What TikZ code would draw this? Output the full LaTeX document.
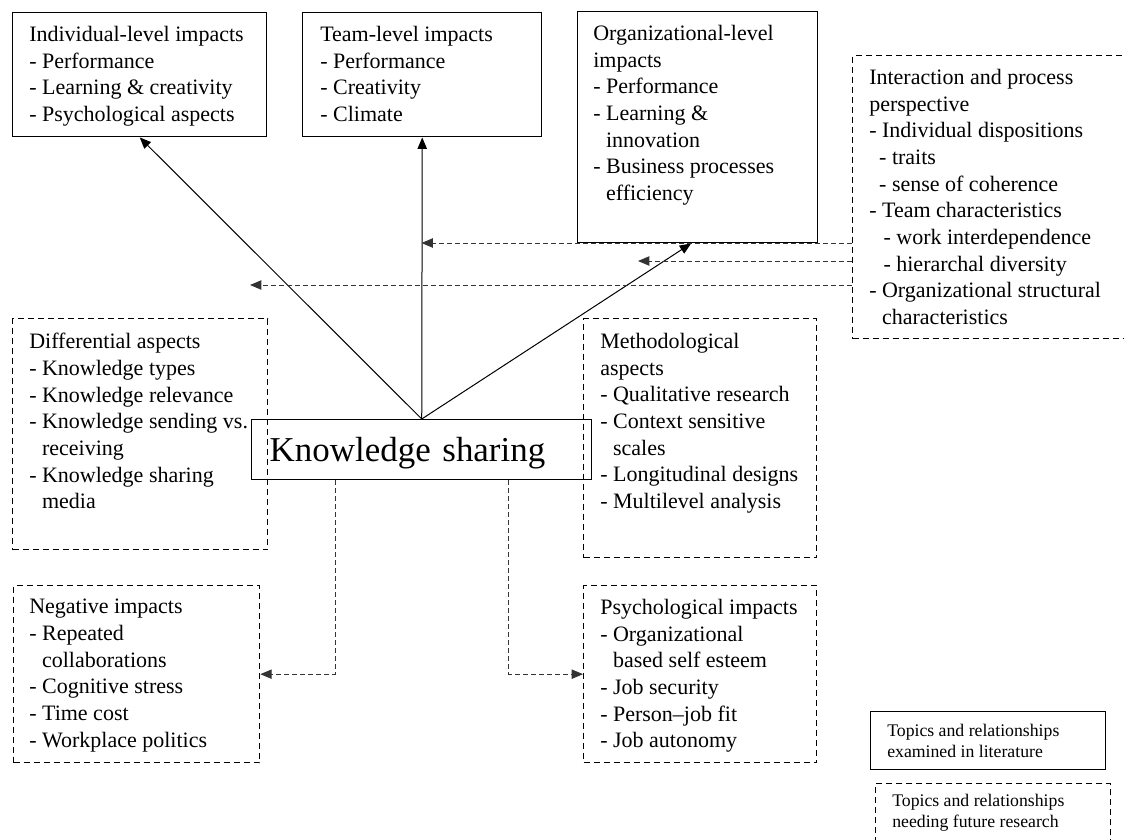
\documentclass[tikz,border=0pt]{standalone}
\usepackage{fontspec}
\setmainfont{Liberation Serif}
\usetikzlibrary{arrows.meta,
                positioning}
\tikzset{topic/.style =
   {rectangle,
    draw,
    line width=1.1pt,
    anchor=north west,
    inner sep=0pt}}
\tikzset{future/.style =
   {topic,
    line width=1pt,
    dash pattern=on 4.5pt off 3pt}}
\tikzset{topictext/.style =
   {anchor=north west,
    align=left,
    inner sep=0pt,
    font=\fontsize{16.5}{20}\selectfont}}
\tikzset{legendtext/.style =
   {topictext,
    font=\fontsize{13.3}{15.5}\selectfont}}
\tikzset{arrow/.style = {draw, line width=0.75pt, -{Triangle[length=8.5pt,width=7pt]}}}
\tikzset{futurearrow/.style = {arrow, black!80, dash pattern=on 3.75pt off 2.25pt}}
\newcommand{\wrapind}{\hspace*{0.583em}}

\begin{document}
\begin{tikzpicture}[x=0.75pt, y=-0.75pt]

    \useasboundingbox (0,0) rectangle (1124,839);

    \node [topic,
           minimum width=190.5pt,
           minimum height=93pt] (indiv) at (12,12) {};

    \node [topic,
           minimum width=179.25pt,
           minimum height=93pt] (team) at (302,12) {};

    \node [topic,
           minimum width=180pt,
           minimum height=173.25pt] (org) at (577,11) {};

    \node [future,
           minimum width=216pt,
           minimum height=212.25pt] (interact) at (852,55) {};

    \node [future,
           minimum width=191.25pt,
           minimum height=173.25pt] (diff) at (12,318) {};

    \node [future,
           minimum width=174.75pt,
           minimum height=179.25pt] (method) at (583,318) {};

    \node [future,
           minimum width=184.5pt,
           minimum height=132.75pt] (neg) at (13,585) {};

    \node [future,
           minimum width=174.75pt,
           minimum height=132.75pt] (psych) at (583,585) {};

    \node [topic,
           inner xsep=13.5pt,
           text width=228pt,
           minimum height=45pt,
           align=left,
           text depth=0pt,
           font=\fontsize{26.2}{30}\selectfont] (ks) at (251,419) {Knowledge sharing};

    \node [topic,
           minimum width=176.25pt,
           minimum height=43.5pt] (seen) at (870,711) {};

    \node [future,
           minimum width=176.25pt,
           minimum height=50pt] (unseen) at (875,783) {};

    \node [topictext] (indiv-text) at ([shift={(17,14)}]indiv.north west)
          {Individual-level impacts\\- Performance\\- Learning \& creativity\\- Psychological aspects};

    \node [topictext] (team-text) at ([shift={(18,14)}]team.north west)
          {Team-level impacts\\- Performance\\- Creativity\\- Climate};

    \node [topictext] (org-text) at ([shift={(16,14)}]org.north west)
          {Organizational-level\\impacts\\- Performance\\- Learning \&\\\wrapind innovation\\- Business processes\\\wrapind efficiency};

    \node [topictext] (interact-text) at ([shift={(17,14)}]interact.north west)
          {Interaction and process\\perspective\\- Individual dispositions\\\hspace*{0.45em}- traits\\\hspace*{0.45em}- sense of coherence\\- Team characteristics\\\hspace*{0.65em}- work interdependence\\\hspace*{0.65em}- hierarchal diversity\\- Organizational structural\\\wrapind characteristics};

    \node [topictext] (diff-text) at ([shift={(17,15)}]diff.north west)
          {Differential aspects\\- Knowledge types\\- Knowledge relevance\\- Knowledge sending vs.\\\wrapind receiving\\- Knowledge sharing\\\wrapind media};

    \node [topictext] (method-text) at ([shift={(17,15)}]method.north west)
          {Methodological\\aspects\\- Qualitative research\\- Context sensitive\\\wrapind scales\\- Longitudinal designs\\- Multilevel analysis};

    \node [topictext] (neg-text) at ([shift={(16,14)}]neg.north west)
          {Negative impacts\\- Repeated\\\wrapind collaborations\\- Cognitive stress\\- Time cost\\- Workplace politics};

    \node [topictext] (psych-text) at ([shift={(17,14)}]psych.north west)
          {Psychological impacts\\- Organizational\\\wrapind based self esteem\\- Job security\\- Person--job fit\\- Job autonomy};

    \node [legendtext] (seen-text) at ([shift={(17,13)}]seen.north west)
          {Topics and relationships\\examined in literature};

    \node [legendtext] (unseen-text) at ([shift={(17,11)}]unseen.north west)
          {Topics and relationships\\needing future research};

    \draw [arrow] (ks.north) -- (indiv.south);
    \draw [arrow] (ks.north) -- (team.south);
    \draw [arrow] (ks.north) -- ([xshift=-5pt]org.south);

    \coordinate (teamhit) at (421.5,243);
    \coordinate (orghit) at (638,261);
    \coordinate (indivhit) at (250,285);

    \draw [futurearrow] (interact.west |- teamhit) -- (teamhit);
    \draw [futurearrow] (interact.west |- orghit) -- (orghit);
    \draw [futurearrow] (interact.west |- indivhit) -- (indivhit);

    \draw [futurearrow] ([xshift=63pt]ks.south west) |- (neg.east);
    \draw [futurearrow] ([xshift=-63pt]ks.south east) |- (psych.west);

\end{tikzpicture}
\end{document}
